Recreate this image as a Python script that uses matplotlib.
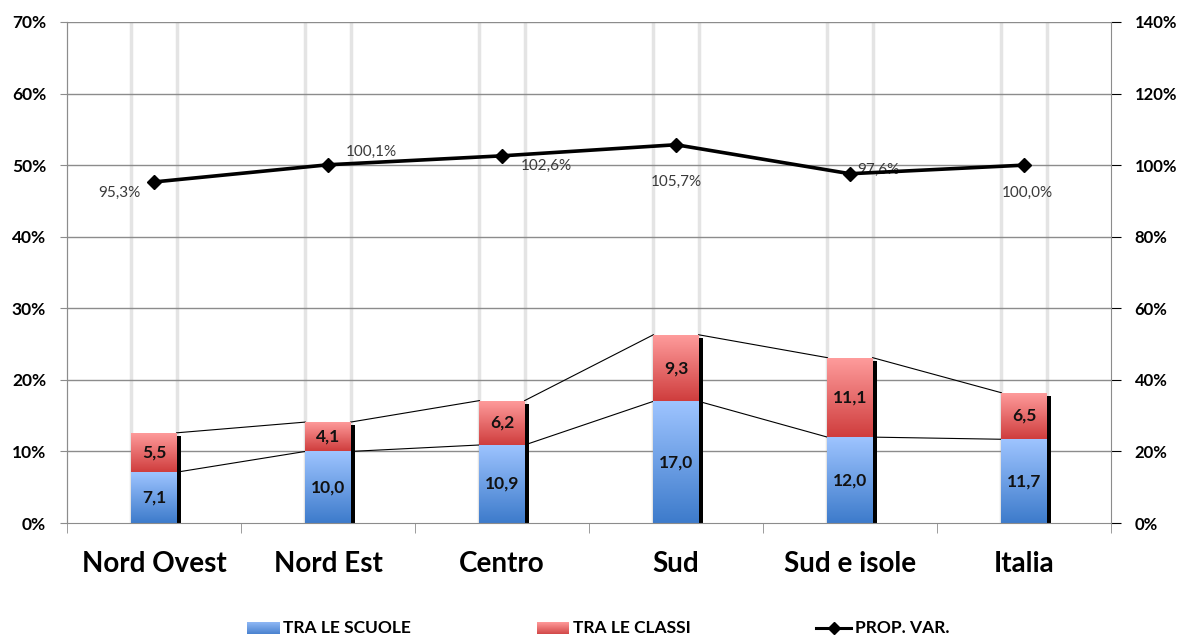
import matplotlib
matplotlib.use("Agg")
import matplotlib.pyplot as plt
import numpy as np
from matplotlib.patches import Rectangle
from matplotlib.lines import Line2D
from matplotlib.colors import LinearSegmentedColormap

plt.rcParams['font.family'] = ['Lato', 'DejaVu Sans']

# ---- data ----
categories = ["Nord Ovest", "Nord Est", "Centro", "Sud", "Sud e isole", "Italia"]
tra_scuole = [7.1, 10.0, 10.9, 17.0, 12.0, 11.7]
tra_classi = [5.5, 4.1, 6.2, 9.3, 11.1, 6.5]
prop_var = [95.3, 100.1, 102.6, 105.7, 97.6, 100.0]
left_ticks = [0, 10, 20, 30, 40, 50, 60, 70]
right_ticks = [0, 20, 40, 60, 80, 100, 120, 140]
legend_labels = ["TRA LE SCUOLE", "TRA LE CLASSI", "PROP. VAR."]

# label offsets (pixels) for the line values
prop_offsets = [(-35, -11), (43, 13), (44, -10), (0, -37), (28, 4), (3, -28)]

W, H = 1179, 635
fig = plt.figure(figsize=(W / 100, H / 100), dpi=100)
ax = fig.add_axes([67 / W, 1 - 523 / H, (1111 - 67) / W, (523 - 22) / H])
ax2 = ax.twinx()

n = len(categories)
x = np.arange(n)
bw = 0.26

# horizontal gridlines
for t in left_ticks[1:]:
    ax.axhline(t, color="#8c8c8c", lw=1.0, zorder=0.5)

# light vertical guides at bar edges
for xi in x:
    for e in (xi - bw / 2, xi + bw / 2):
        ax.axvline(e, color="#e4e4e4", lw=2.5, zorder=0.4)

blue_cmap = LinearSegmentedColormap.from_list("b", ["#3d7bcb", "#9ec4ff"])
red_cmap = LinearSegmentedColormap.from_list("r", ["#cf3d3d", "#ff9d9d"])
grad = np.linspace(0, 1, 256).reshape(-1, 1)

px_x = n / (1111 - 67)
px_y = 70 / (523 - 22)

totals = [a + b for a, b in zip(tra_scuole, tra_classi)]

# shadows
ax.bar(x + 4 * px_x, [t - 3 * px_y for t in totals], bw, color="black", zorder=1.5)

def gradient_bar(xc, bottom, height, cmap):
    rect = Rectangle((xc - bw / 2, bottom), bw, height, facecolor="none",
                     edgecolor="none", zorder=2)
    ax.add_patch(rect)
    im = ax.imshow(grad, cmap=cmap, origin="lower", aspect="auto",
                   extent=(xc - bw / 2, xc + bw / 2, bottom, bottom + height),
                   zorder=2, interpolation="bilinear")
    im.set_clip_path(rect)

for xi, s, c in zip(x, tra_scuole, tra_classi):
    gradient_bar(xi, 0, s, blue_cmap)
    gradient_bar(xi, s, c, red_cmap)
    ax.text(xi, s / 2, f"{s:.1f}".replace(".", ","), ha="center", va="center",
            fontsize=12.5, fontweight="bold", color="#111111", zorder=4)
    ax.text(xi, s + c / 2, f"{c:.1f}".replace(".", ","), ha="center", va="center",
            fontsize=12.5, fontweight="bold", color="#111111", zorder=4)

ax.set_aspect("auto")
ax.set_xlim(-0.5, n - 0.5)
ax.set_ylim(0, 70)
ax2.set_ylim(0, 140)

# series connector lines
for i in range(n - 1):
    ax.plot([x[i] + bw / 2, x[i + 1] - bw / 2], [tra_scuole[i], tra_scuole[i + 1]],
            color="black", lw=0.8, zorder=1.8)
    ax.plot([x[i] + bw / 2, x[i + 1] - bw / 2], [totals[i], totals[i + 1]],
            color="black", lw=0.8, zorder=1.8)

# secondary line
ax2.plot(x, prop_var, color="black", lw=2.6, marker="D", markersize=7, zorder=5)
for xi, v, (dx, dy) in zip(x, prop_var, prop_offsets):
    ax2.annotate(f"{v:.1f}%".replace(".", ","), (xi, v), xytext=(dx, dy),
                 textcoords="offset pixels", ha="center", va="center",
                 fontsize=11, color="#3a3a3a")
ax2.set_zorder(ax.get_zorder() + 1)
ax2.patch.set_visible(False)

# axes styling
ax.set_yticks(left_ticks)
ax.set_yticklabels([f"{t}%" for t in left_ticks], fontsize=12.5, fontweight="bold")
ax2.set_yticks(right_ticks)
ax2.set_yticklabels([f"{t}%" for t in right_ticks], fontsize=12, fontweight="bold")
ax.tick_params(axis="y", length=5, color="#8c8c8c", pad=10)
ax2.tick_params(axis="y", length=7, color="black", pad=10)

ax.set_xticks(x)
ax.set_xticklabels(categories, fontsize=20, fontweight="bold")
ax.tick_params(axis="x", length=0, pad=20)
ax.set_xticks(np.arange(n + 1) - 0.5, minor=True)
ax.tick_params(axis="x", which="minor", length=7, color="#8c8c8c")

ax.spines["top"].set_visible(False)
ax2.spines["top"].set_visible(False)
for sp in ("left", "right", "bottom"):
    ax.spines[sp].set_color("#8c8c8c")
    ax2.spines[sp].set_color("#8c8c8c")
ax2.spines["bottom"].set_visible(False)
ax.spines["right"].set_visible(False)

# legend along the bottom edge
def fx(px):
    return px / W

def fy(py):
    return 1 - py / H

yc = 628
leg_blue = LinearSegmentedColormap.from_list("lb", ["#4a82cf", "#8fb8f5"])
leg_red = LinearSegmentedColormap.from_list("lr", ["#d24848", "#ff9a9a"])
for x0, x1, cm in ((247, 280, leg_blue), (537, 569, leg_red)):
    lax = fig.add_axes([fx(x0), fy(634), (x1 - x0) / W, 12 / H])
    lax.imshow(grad, cmap=cm, origin="lower", aspect="auto")
    lax.axis("off")
fig.add_artist(Line2D([fx(816), fx(851)], [fy(yc), fy(yc)], transform=fig.transFigure,
                      color="black", lw=2.2))
fig.add_artist(Line2D([fx(834)], [fy(yc)], transform=fig.transFigure,
                      color="black", marker="D", markersize=6))
for px, lab in zip((283, 573, 855), legend_labels):
    fig.text(fx(px), fy(yc), lab, ha="left", va="center", fontsize=12.5,
             fontweight="bold", color="black")

fig.savefig("out.png", dpi=100)
